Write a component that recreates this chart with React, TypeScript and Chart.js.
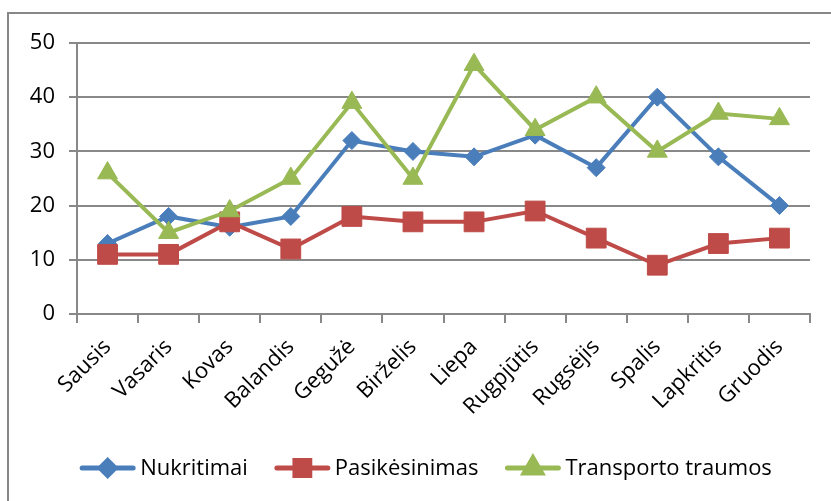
import React, { useEffect, useRef } from 'react';
import { Chart, registerables } from 'chart.js';
import { drawPoint } from 'chart.js/helpers';
Chart.register(...registerables);

const categories = ['Sausis', 'Vasaris', 'Kovas', 'Balandis', 'Gegužė', 'Birželis', 'Liepa', 'Rugpjūtis', 'Rugsėjis', 'Spalis', 'Lapkritis', 'Gruodis'];
const nukritimai = [13, 18, 16, 18, 32, 30, 29, 33, 27, 40, 29, 20];
const pasikesinimas = [11, 11, 17, 12, 18, 17, 17, 19, 14, 9, 13, 14];
const transporto = [26, 15, 19, 25, 39, 25, 46, 34, 40, 30, 37, 36];
const seriesNames = ['Nukritimai', 'Pasikėsinimas', 'Transporto traumos'];
const yMin = 0;
const yMax = 50;
const yStep = 10;

const FONT = '"Open Sans", "DejaVu Sans", sans-serif';
const GRID = '#888888';

const legendMarkers: Record<string, { style: string; radius: number }> = {
  rectRot: { style: 'rectRot', radius: 7.5 },
  rect: { style: 'rect', radius: 10.5 },
  triangle: { style: 'triangle', radius: 10 },
};

const legendPlugin = {
  id: 'excelLegend',
  afterDraw(chart: any) {
    const ctx = chart.ctx as CanvasRenderingContext2D;
    ctx.save();
    ctx.font = `22px ${FONT}`;
    const lineLen = 55;
    const gap = 5;
    const spacing = 27;
    const items = chart.data.datasets.map((ds: any) => ({ ds, tw: ctx.measureText(ds.label).width }));
    const total = items.reduce((s: number, it: any) => s + lineLen + gap + it.tw, 0) + spacing * (items.length - 1);
    let x = chart.width / 2 + 6 - total / 2;
    const y = 454;
    items.forEach(({ ds, tw }: any) => {
      ctx.strokeStyle = ds.borderColor;
      ctx.lineWidth = 5;
      ctx.lineCap = 'round';
      ctx.beginPath();
      ctx.moveTo(x + 2, y);
      ctx.lineTo(x + lineLen - 2, y);
      ctx.stroke();
      const m = legendMarkers[ds.pointStyle];
      ctx.fillStyle = ds.borderColor;
      ctx.strokeStyle = ds.borderColor;
      drawPoint(ctx, { pointStyle: m.style, radius: m.radius, rotation: 0, borderWidth: 1 } as any, x + lineLen / 2, y);
      ctx.fillStyle = '#000000';
      ctx.textBaseline = 'middle';
      ctx.textAlign = 'left';
      ctx.fillText(ds.label, x + lineLen + gap, y + 1);
      x += lineLen + gap + tw + spacing;
    });
    ctx.restore();
  },
};

export default function App() {
  const ref = useRef<HTMLCanvasElement | null>(null);
  useEffect(() => {
    if (!ref.current) return;
    const chart = new Chart(ref.current, {
      type: 'line',
      data: {
        labels: categories,
        datasets: [
          {
            label: seriesNames[0],
            data: nukritimai,
            borderColor: '#4A7EBB',
            backgroundColor: '#4A7EBB',
            borderWidth: 4,
            pointStyle: 'rectRot',
            pointRadius: 9,
            pointBorderWidth: 1,
            tension: 0,
            order: 3,
          },
          {
            label: seriesNames[1],
            data: pasikesinimas,
            borderColor: '#BE4B48',
            backgroundColor: '#BE4B48',
            borderWidth: 4,
            pointStyle: 'rect',
            pointRadius: 14,
            pointBorderWidth: 1,
            tension: 0,
            order: 2,
          },
          {
            label: seriesNames[2],
            data: transporto,
            borderColor: '#98B954',
            backgroundColor: '#98B954',
            borderWidth: 4,
            pointStyle: 'triangle',
            pointRadius: 11.5,
            pointBorderWidth: 1,
            tension: 0,
            order: 1,
          },
        ],
      },
      options: {
        responsive: false,
        animation: false,
        layout: { padding: { left: 0, right: 21, top: 29, bottom: 67 } },
        plugins: { legend: { display: false }, tooltip: { enabled: false } },
        scales: {
          x: {
            offset: true,
            grid: { offset: true, drawOnChartArea: false, drawTicks: true, tickLength: 9, color: GRID, lineWidth: 2 },
            border: { color: GRID, width: 2 },
            ticks: { minRotation: 45, maxRotation: 45, autoSkip: false, font: { family: FONT, size: 22 }, color: '#000000', padding: 11 },
            afterFit: (s: any) => { s.height = 120; },
          },
          y: {
            min: yMin,
            max: yMax,
            ticks: { stepSize: yStep, font: { family: FONT, size: 22 }, color: '#000000', padding: 14 },
            grid: { color: GRID, lineWidth: 2, tickLength: 8 },
            border: { color: GRID, width: 2 },
            afterFit: (s: any) => { s.width = 68; },
          },
        },
      },
      plugins: [legendPlugin],
    } as any);
    return () => chart.destroy();
  }, []);
  return (
    <div
      style={{
        position: 'absolute',
        left: 7,
        top: 12,
        width: 824,
        height: 489,
        borderLeft: '2px solid #878787',
        borderTop: '2px solid #878787',
        boxSizing: 'border-box',
        overflow: 'hidden',
        background: '#ffffff',
      }}
    >
      <canvas ref={ref} width={822} height={487} style={{ display: 'block' }} />
    </div>
  );
}
